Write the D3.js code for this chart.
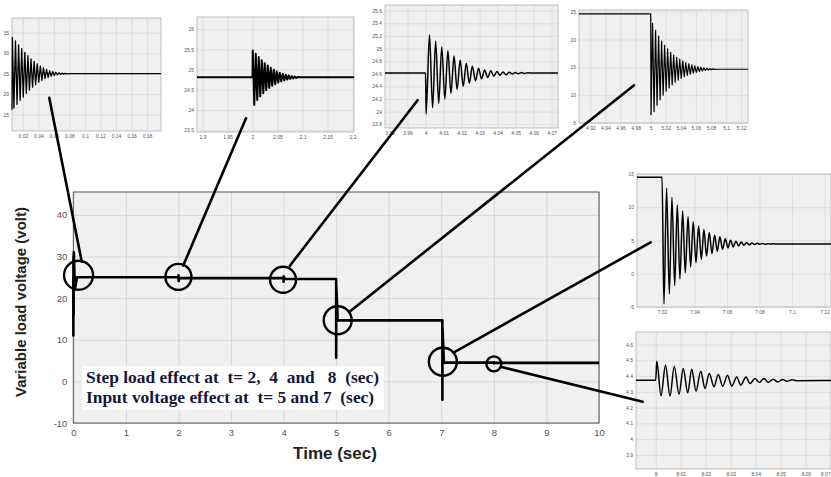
<!DOCTYPE html>
<html>
<head>
<meta charset="utf-8">
<script src="https://cdn.jsdelivr.net/npm/d3@7"></script>
<style>
body { margin: 0; background: #fff; }
svg { display: block; font-family: Arial, "Liberation Sans", sans-serif; }
</style>
</head>
<body>
<svg id="fig" width="831" height="477"></svg>
<script>
// ---- main plot: load voltage over the whole run, [time, volt]
const mainTrace = [
    [0, 25], [0.001, 11], [0.003, 30], [0.006, 16], [0.01, 31], [0.03, 22], [0.07, 25],
    [2, 25], [2.001, 25.5], [2.003, 24.1], [2.02, 24.8],
    [4, 24.8], [4.0003, 23.96], [4.0022, 25.22], [4.02, 24.61],
    [5, 24.61], [5.0005, 5.7], [5.0025, 22.9], [5.03, 14.66],
    [7.02, 14.66], [7.0212, -4.4], [7.0228, 12.88], [7.05, 4.5],
    [8, 4.5], [8.0004, 4.56], [8.0021, 4.35], [8.03, 4.45], [10, 4.45]
];
const mainXLim = [0, 10];
const mainYLim = [-10, 45.5];
const mainXTicks = [0, 1, 2, 3, 4, 5, 6, 7, 8, 9, 10];
const mainYTicks = [-10, 0, 10, 20, 30, 40];

// ---- zoomed views, each [time, volt] through the peaks
const in1Trace = [
    [0.006, 16.2], [0.0065, 33.8], [0.0085, 16.6], [0.0105, 33.0], [0.0125, 17.5], [0.0145, 32.0],
    [0.0165, 18.5], [0.0185, 31.1], [0.0205, 19.3], [0.0225, 30.2], [0.0245, 20.2], [0.0265, 29.4],
    [0.0285, 21.0], [0.0305, 28.6], [0.0325, 21.7], [0.0345, 28.0], [0.0365, 22.3], [0.0385, 27.4],
    [0.0405, 22.9], [0.0425, 26.85], [0.0445, 23.4], [0.0465, 26.4], [0.0485, 23.8], [0.0505, 26.05],
    [0.0525, 24.1], [0.0545, 25.75], [0.0565, 24.38], [0.0585, 25.52], [0.0605, 24.57], [0.0625, 25.35],
    [0.0645, 24.72], [0.0665, 25.22], [0.0685, 24.83], [0.0705, 25.13], [0.0725, 24.9], [0.0745, 25.07],
    [0.0765, 24.95], [0.08, 25], [0.198, 25]
];
const in1XLim = [0.006, 0.198];
const in1YLim = [11, 38.6];
const in1XTicks = [0.02, 0.04, 0.06, 0.08, 0.1, 0.12, 0.14, 0.16, 0.18];
const in1YTicks = [15, 20, 25, 30, 35];

const in2Trace = [
    [1.889, 24.81], [2.0, 24.81], [2.0005, 25.47], [2.0035, 24.13], [2.0065, 25.39], [2.0095, 24.25],
    [2.0125, 25.31], [2.0155, 24.34], [2.0185, 25.23], [2.0215, 24.42], [2.0245, 25.16], [2.0275, 24.49],
    [2.0305, 25.10], [2.0335, 24.55], [2.0365, 25.045], [2.0395, 24.60], [2.0425, 25.00], [2.0455, 24.64],
    [2.0485, 24.96], [2.0515, 24.68], [2.0545, 24.925], [2.0575, 24.71], [2.0605, 24.895], [2.0635, 24.735],
    [2.0665, 24.875], [2.0695, 24.755], [2.0725, 24.855], [2.0755, 24.77], [2.0785, 24.84], [2.0815, 24.785],
    [2.0845, 24.83], [2.0875, 24.795], [2.0905, 24.82], [2.095, 24.81], [2.203, 24.81]
];
const in2XLim = [1.889, 2.203];
const in2YLim = [23.46, 26.3];
const in2XTicks = [1.9, 1.95, 2, 2.05, 2.1, 2.15, 2.2];
const in2YTicks = [23.5, 24, 24.5, 25, 25.5, 26];

const in3Trace = [
    [3.9775, 24.61], [4.0, 24.61], [4.0003, 23.96], [4.0022, 25.22], [4.0039, 24.06], [4.0056, 25.12],
    [4.0073, 24.13], [4.009, 25.03], [4.0107, 24.2], [4.0124, 24.965], [4.0141, 24.29], [4.0158, 24.88],
    [4.0175, 24.35], [4.0192, 24.82], [4.0209, 24.4], [4.0226, 24.765], [4.0243, 24.45], [4.026, 24.72],
    [4.0277, 24.49], [4.0294, 24.686], [4.0311, 24.52], [4.0328, 24.66], [4.0345, 24.54], [4.0362, 24.648],
    [4.0379, 24.56], [4.0396, 24.635], [4.0413, 24.575], [4.043, 24.628], [4.0447, 24.585], [4.0464, 24.624],
    [4.0481, 24.595], [4.0498, 24.62], [4.0515, 24.60], [4.0532, 24.618], [4.0549, 24.603], [4.0566, 24.616],
    [4.06, 24.61], [4.0735, 24.61]
];
const in3XLim = [3.9775, 4.0735];
const in3YLim = [23.74, 25.69];
const in3XTicks = [3.98, 3.99, 4, 4.01, 4.02, 4.03, 4.04, 4.05, 4.06, 4.07];
const in3YTicks = [23.8, 24, 24.2, 24.4, 24.6, 24.8, 25, 25.2, 25.4, 25.6];

const in4Trace = [
    [4.905, 24.6], [5.0, 24.6], [5.0005, 6.5], [5.0025, 22.9], [5.0045, 7.06], [5.0065, 21.66],
    [5.0085, 8.21], [5.0105, 20.61], [5.0125, 9.16], [5.0145, 19.71], [5.0165, 10.01], [5.0185, 18.96],
    [5.0205, 10.71], [5.0225, 18.31], [5.0245, 11.31], [5.0265, 17.71], [5.0285, 11.86], [5.0305, 17.21],
    [5.0325, 12.31], [5.0345, 16.81], [5.0365, 12.71], [5.0385, 16.46], [5.0405, 13.01], [5.0425, 16.16],
    [5.0445, 13.31], [5.0465, 15.86], [5.0485, 13.56], [5.0505, 15.64], [5.0525, 13.78], [5.0545, 15.44],
    [5.0565, 13.96], [5.0585, 15.28], [5.0605, 14.11], [5.0625, 15.14], [5.0645, 14.24], [5.0665, 15.02],
    [5.0685, 14.35], [5.0705, 14.92], [5.0725, 14.44], [5.0745, 14.84], [5.0765, 14.52], [5.0785, 14.77],
    [5.0805, 14.58], [5.0825, 14.72], [5.0845, 14.62], [5.09, 14.66], [5.129, 14.66]
];
const in4XLim = [4.905, 5.129];
const in4YLim = [5, 25.3];
const in4XTicks = [4.92, 4.94, 4.96, 4.98, 5, 5.02, 5.04, 5.06, 5.08, 5.1, 5.12];
const in4YTicks = [5, 10, 15, 20, 25];

const in5Trace = [
    [7.0046, 14.5], [7.02, 14.5], [7.0212, -4.55], [7.0228, 12.88], [7.0245, -3.03], [7.0261, 11.52],
    [7.0278, -1.77], [7.0294, 10.35], [7.031, -0.76], [7.0327, 9.44], [7.0343, 0.15], [7.036, 8.58],
    [7.0376, 1.0], [7.0392, 7.82], [7.0409, 1.67], [7.0425, 7.17], [7.0442, 2.17], [7.0458, 6.67],
    [7.0474, 2.67], [7.0491, 6.21], [7.0507, 3.03], [7.0524, 5.8], [7.054, 3.38], [7.0556, 5.55],
    [7.0573, 3.68], [7.0589, 5.3], [7.0606, 3.88], [7.0622, 5.05], [7.0638, 4.03], [7.0655, 4.9],
    [7.0671, 4.18], [7.0688, 4.79], [7.0704, 4.29], [7.072, 4.69], [7.0737, 4.34], [7.0753, 4.64],
    [7.077, 4.39], [7.0786, 4.59], [7.0802, 4.43], [7.0819, 4.55], [7.0835, 4.45], [7.0851, 4.52],
    [7.0868, 4.46], [7.0884, 4.5], [7.092, 4.48], [7.124, 4.48]
];
const in5XLim = [7.0046, 7.124];
const in5YLim = [-5, 15];
const in5XTicks = [7.02, 7.04, 7.06, 7.08, 7.1, 7.12];
const in5YTicks = [-5, 0, 5, 10, 15];

const in6Trace = [
    [7.9921, 4.374], [8.0, 4.374], [8.0004, 4.494], [8.0021, 4.275], [8.0039, 4.469], [8.0057, 4.273],
    [8.0074, 4.463], [8.0093, 4.284], [8.011, 4.448], [8.0128, 4.294], [8.0144, 4.444], [8.0161, 4.305],
    [8.018, 4.431], [8.0197, 4.322], [8.0214, 4.416], [8.0233, 4.333], [8.025, 4.41], [8.0268, 4.336],
    [8.0287, 4.406], [8.0304, 4.336], [8.0324, 4.395], [8.034, 4.342], [8.0361, 4.395], [8.0377, 4.353],
    [8.0397, 4.385], [8.0414, 4.36], [8.0433, 4.385], [8.045, 4.36], [8.047, 4.38], [8.0488, 4.363],
    [8.0508, 4.378], [8.0524, 4.367], [8.0545, 4.376], [8.0565, 4.37], [8.0701, 4.372]
];
const in6XLim = [7.9921, 8.0701];
const in6YLim = [3.81, 4.68];
const in6XTicks = [8, 8.01, 8.02, 8.03, 8.04, 8.05, 8.06, 8.07];
const in6YTicks = [3.9, 4, 4.1, 4.2, 4.3, 4.4, 4.5, 4.6];

// ---- call-outs: ring on the main trace, leader end in main plot, leader end in the zoom
const ringPoints = [[0.1, 25.5], [2.0, 25.1], [3.99, 24.4], [5.03, 14.7], [7.03, 4.7], [8.0, 4.2]];
const leadMainEnds = [[0.16, 28.8], [2.09, 27.8], [4.12, 27.8], [5.26, 16.8], [7.24, 6.97], [8.145, 3.46]];
const leadZoomEnds = [[0.054, 19.1], [1.987, 23.8], [3.9956, 24.18], [4.978, 11.77], [7.013, 4.73], [7.9948, 4.237]];

const noteLines = [
    "Step load effect at  t= 2,  4  and   8  (sec)",
    "Input voltage effect at  t= 5 and 7  (sec)"
];
const xTitle = "Time (sec)";
const yTitle = "Variable load voltage (volt)";

const pageWidth = 831;
var svg = d3.select("#fig");

/**
 * draws one MATLAB-like axes box with grid, tick labels and a trace.
 */
var drawPanel = function(p) {
    const [x0, y0, x1, y1] = p.box;
    const x = d3.scaleLinear().domain(p.xLim).range([x0, x1]);
    const y = d3.scaleLinear().domain(p.yLim).range([y1, y0]);
    const g = svg.append("g");

    g.append("rect")
        .attr("x", x0).attr("y", y0)
        .attr("width", x1 - x0).attr("height", y1 - y0)
        .attr("fill", "#f0f0f0");

    // grid
    g.append("g")
        .attr("transform", "translate(0," + y1 + ")")
        .call(d3.axisBottom(x).tickValues(p.xTicks).tickSize(-(y1 - y0)).tickFormat(""))
        .call(a => a.select(".domain").remove())
        .selectAll("line").attr("stroke", "#d4d4d4").attr("stroke-width", p.gw);
    g.append("g")
        .attr("transform", "translate(" + x0 + ",0)")
        .call(d3.axisLeft(y).tickValues(p.yTicks).tickSize(-(x1 - x0)).tickFormat(""))
        .call(a => a.select(".domain").remove())
        .selectAll("line").attr("stroke", "#d4d4d4").attr("stroke-width", p.gw);

    g.append("rect")
        .attr("x", x0).attr("y", y0)
        .attr("width", x1 - x0).attr("height", y1 - y0)
        .attr("fill", "none").attr("stroke", p.frame).attr("stroke-width", p.gw);

    // tick labels
    const xa = g.append("g")
        .attr("transform", "translate(0," + y1 + ")")
        .call(d3.axisBottom(x).tickValues(p.xTicks).tickSize(0).tickPadding(p.pad).tickFormat(d => String(d)));
    const ya = g.append("g")
        .attr("transform", "translate(" + x0 + ",0)")
        .call(d3.axisLeft(y).tickValues(p.yTicks).tickSize(0).tickPadding(p.pad).tickFormat(d => String(d)));
    [xa, ya].forEach(a => {
        a.select(".domain").remove();
        a.attr("font-size", p.fs).attr("font-family", "Arial, 'Liberation Sans', sans-serif");
        a.selectAll("text").attr("fill", "#555");
    });
    // a label that would run past the page edge is pulled back inside
    xa.selectAll(".tick").filter(d => x(d) > pageWidth - 6)
        .select("text")
        .attr("text-anchor", "end")
        .attr("x", d => pageWidth - 1 - x(d));

    g.append("path")
        .datum(p.trace)
        .attr("d", d3.line().x(d => x(d[0])).y(d => y(d[1])).curve(p.curve))
        .attr("fill", "none")
        .attr("stroke", "#000")
        .attr("stroke-width", p.lw)
        .attr("stroke-linejoin", "round");

    return { x: x, y: y };
};

const insetStyle = { gw: 0.6, frame: "#9a9a9a", pad: 3, fs: 5 };
const zooms = [
    { box: [12, 18, 161, 131], xLim: in1XLim, yLim: in1YLim, xTicks: in1XTicks, yTicks: in1YTicks, trace: in1Trace, curve: d3.curveLinear, lw: 1.3 },
    { box: [197, 17, 354, 132], xLim: in2XLim, yLim: in2YLim, xTicks: in2XTicks, yTicks: in2YTicks, trace: in2Trace, curve: d3.curveLinear, lw: 2 },
    { box: [385, 5, 558, 128], xLim: in3XLim, yLim: in3YLim, xTicks: in3XTicks, yTicks: in3YTicks, trace: in3Trace, curve: d3.curveMonotoneX, lw: 1.5 },
    { box: [579, 10, 748, 123], xLim: in4XLim, yLim: in4YLim, xTicks: in4XTicks, yTicks: in4YTicks, trace: in4Trace, curve: d3.curveLinear, lw: 1.2 },
    { box: [637, 174, 831, 307], xLim: in5XLim, yLim: in5YLim, xTicks: in5XTicks, yTicks: in5YTicks, trace: in5Trace, curve: d3.curveMonotoneX, lw: 1.5 },
    { box: [636, 332, 831, 469], xLim: in6XLim, yLim: in6YLim, xTicks: in6XTicks, yTicks: in6YTicks, trace: in6Trace, curve: d3.curveMonotoneX, lw: 1.5 }
].map(z => Object.assign({}, insetStyle, z));

const zoomScales = zooms.map(drawPanel);

// main plot
const main = drawPanel({
    box: [73.3, 192, 599, 423], xLim: mainXLim, yLim: mainYLim,
    xTicks: mainXTicks, yTicks: mainYTicks, trace: mainTrace,
    curve: d3.curveLinear, lw: 2.6, gw: 0.9, frame: "#444", pad: 6, fs: 9.5
});

svg.append("text")
    .text(xTitle)
    .attr("x", 335).attr("y", 459)
    .attr("text-anchor", "middle")
    .attr("font-weight", "bold").attr("font-size", 17)
    .attr("fill", "#222");

svg.append("text")
    .text(yTitle)
    .attr("transform", "translate(26,302) rotate(-90)")
    .attr("text-anchor", "middle")
    .attr("font-weight", "bold").attr("font-size", 15)
    .attr("fill", "#222");

// note box
svg.append("rect")
    .attr("x", 82).attr("y", 366).attr("width", 302).attr("height", 44)
    .attr("fill", "#fff");
noteLines.forEach((s, i) => {
    svg.append("text")
        .text(s)
        .attr("x", 86).attr("y", 383 + i * 20)
        .attr("xml:space", "preserve")
        .style("white-space", "pre")
        .attr("font-family", "'Liberation Serif', 'Times New Roman', serif")
        .attr("font-weight", "bold").attr("font-size", 17.4)
        .attr("fill", "#15153a");
});

// rings and leader lines
const ringR = [14.5, 13, 13, 14, 14, 7.5];
ringPoints.forEach((c, i) => {
    svg.append("circle")
        .attr("cx", main.x(c[0])).attr("cy", main.y(c[1]))
        .attr("r", ringR[i])
        .attr("fill", "none").attr("stroke", "#000").attr("stroke-width", 2.4);
    svg.append("line")
        .attr("x1", main.x(leadMainEnds[i][0])).attr("y1", main.y(leadMainEnds[i][1]))
        .attr("x2", zoomScales[i].x(leadZoomEnds[i][0])).attr("y2", zoomScales[i].y(leadZoomEnds[i][1]))
        .attr("stroke", "#000").attr("stroke-width", 2.6).attr("stroke-linecap", "round");
});
</script>
</body>
</html>
